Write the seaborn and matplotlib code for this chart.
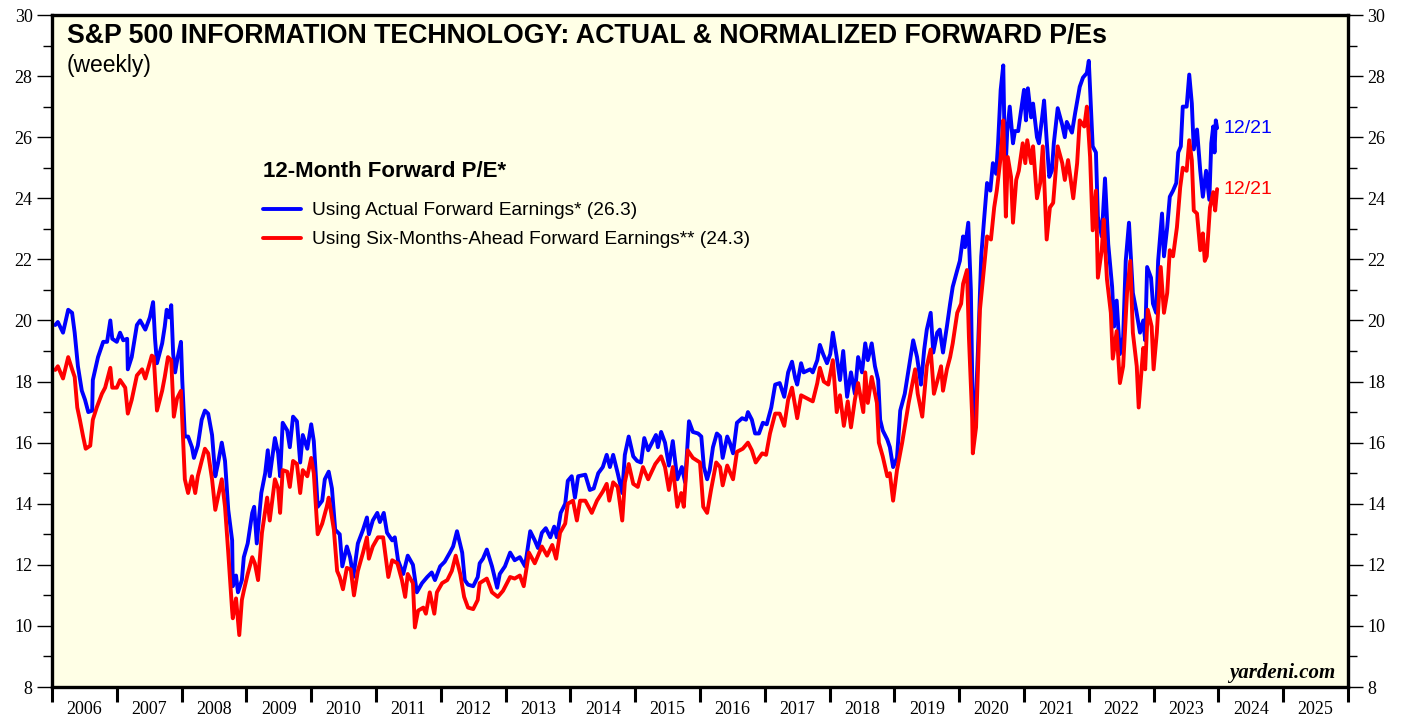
import matplotlib
matplotlib.use("Agg")
import matplotlib.pyplot as plt
from matplotlib.ticker import MultipleLocator, FixedLocator, NullFormatter
import seaborn as sns
import numpy as np
import pandas as pd

# WEEKLY FORWARD P/E (decimal years)
actual_t = [
    2006.05, 2006.09, 2006.17, 2006.25, 2006.31, 2006.35, 2006.40, 2006.46, 2006.51, 2006.56, 2006.62, 2006.63, 2006.71, 2006.79, 2006.85, 2006.90, 2006.93,
    2007.00, 2007.05, 2007.10, 2007.16, 2007.17, 2007.23, 2007.31, 2007.36, 2007.44, 2007.51, 2007.56, 2007.59, 2007.62, 2007.70, 2007.74, 2007.77, 2007.81, 2007.84, 2007.87, 2007.90, 2007.94, 2007.99,
    2008.01, 2008.05, 2008.10, 2008.16, 2008.19, 2008.25, 2008.31, 2008.36, 2008.41, 2008.47, 2008.52, 2008.56, 2008.62, 2008.67, 2008.72, 2008.78, 2008.79, 2008.84, 2008.87, 2008.93, 2008.96,
    2009.02, 2009.09, 2009.12, 2009.16, 2009.23, 2009.29, 2009.33, 2009.36, 2009.44, 2009.49, 2009.52, 2009.56, 2009.63, 2009.67, 2009.72, 2009.78, 2009.83, 2009.87, 2009.94,
    2010.00, 2010.04, 2010.10, 2010.17, 2010.21, 2010.27, 2010.32, 2010.37, 2010.44, 2010.48, 2010.55, 2010.60, 2010.65, 2010.72, 2010.80, 2010.86, 2010.89, 2010.95,
    2011.02, 2011.06, 2011.12, 2011.17, 2011.25, 2011.29, 2011.34, 2011.42, 2011.49, 2011.57, 2011.63, 2011.71, 2011.79, 2011.86, 2011.91, 2011.99,
    2012.06, 2012.14, 2012.19, 2012.25, 2012.33, 2012.37, 2012.42, 2012.50, 2012.57, 2012.60, 2012.65, 2012.71, 2012.79, 2012.87, 2012.91, 2012.99,
    2013.07, 2013.14, 2013.22, 2013.30, 2013.38, 2013.45, 2013.50, 2013.56, 2013.62, 2013.69, 2013.75, 2013.79, 2013.85, 2013.92, 2013.96,
    2014.02, 2014.07, 2014.12, 2014.23, 2014.30, 2014.36, 2014.43, 2014.50, 2014.56, 2014.61, 2014.66, 2014.73, 2014.80, 2014.84, 2014.90, 2014.97,
    2015.03, 2015.09, 2015.14, 2015.20, 2015.26, 2015.32, 2015.35, 2015.40, 2015.46, 2015.52, 2015.58, 2015.65, 2015.72, 2015.77, 2015.83, 2015.89, 2015.97,
    2016.02, 2016.06, 2016.11, 2016.15, 2016.20, 2016.26, 2016.31, 2016.35, 2016.42, 2016.46, 2016.51, 2016.57, 2016.65, 2016.71, 2016.74, 2016.80, 2016.85, 2016.91, 2016.97,
    2017.03, 2017.10, 2017.16, 2017.23, 2017.30, 2017.36, 2017.42, 2017.47, 2017.50, 2017.56, 2017.60, 2017.70, 2017.74, 2017.81, 2017.85, 2017.90, 2017.96,
    2018.01, 2018.05, 2018.11, 2018.16, 2018.21, 2018.27, 2018.33, 2018.39, 2018.44, 2018.50, 2018.55, 2018.59, 2018.65, 2018.70, 2018.75, 2018.78, 2018.82, 2018.89, 2018.93, 2018.98,
    2019.04, 2019.09, 2019.16, 2019.22, 2019.29, 2019.35, 2019.41, 2019.46, 2019.50, 2019.56, 2019.60, 2019.66, 2019.70, 2019.75, 2019.81, 2019.86, 2019.90, 2019.97,
    2020.01, 2020.06, 2020.09, 2020.14, 2020.18, 2020.21, 2020.24, 2020.29, 2020.34, 2020.38, 2020.43, 2020.48, 2020.52, 2020.57, 2020.60, 2020.64, 2020.68, 2020.71, 2020.74, 2020.78, 2020.83, 2020.86, 2020.91, 2020.97,
    2021.00, 2021.03, 2021.06, 2021.11, 2021.14, 2021.20, 2021.23, 2021.28, 2021.31, 2021.35, 2021.39, 2021.43, 2021.46, 2021.52, 2021.59, 2021.63, 2021.66, 2021.74, 2021.79, 2021.86, 2021.91, 2021.97,
    2022.00, 2022.03, 2022.06, 2022.11, 2022.14, 2022.20, 2022.25, 2022.30, 2022.36, 2022.39, 2022.43, 2022.48, 2022.53, 2022.57, 2022.62, 2022.68, 2022.73, 2022.79, 2022.84, 2022.87, 2022.90, 2022.96, 2022.99,
    2023.04, 2023.07, 2023.13, 2023.16, 2023.21, 2023.25, 2023.30, 2023.35, 2023.38, 2023.42, 2023.45, 2023.51, 2023.55, 2023.59, 2023.62, 2023.67, 2023.72, 2023.76, 2023.81, 2023.86, 2023.89, 2023.92, 2023.94, 2023.96, 2023.98,
]
actual_pe = [
    19.85, 19.95, 19.6, 20.35, 20.25, 19.6, 18.5, 17.7, 17.4, 17.0, 17.05, 18.05, 18.8, 19.3, 19.3, 20.0, 19.4,
    19.3, 19.6, 19.35, 19.4, 18.4, 18.8, 19.85, 20.0, 19.7, 20.1, 20.6, 19.4, 18.6, 19.25, 19.8, 20.35, 20.1, 20.5, 18.9, 18.3, 18.8, 19.3,
    18.05, 16.2, 16.2, 15.85, 15.5, 15.9, 16.75, 17.05, 16.95, 16.25, 14.9, 15.3, 16.0, 15.4, 13.8, 12.8, 11.3, 11.65, 11.1, 11.5, 12.25,
    12.7, 13.7, 13.9, 12.7, 14.35, 15.0, 15.75, 14.9, 16.15, 15.65, 14.9, 16.65, 16.4, 15.85, 16.85, 16.7, 15.35, 16.25, 15.8,
    16.6, 16.05, 13.9, 14.1, 14.8, 15.05, 14.5, 13.15, 13.0, 11.95, 12.6, 12.25, 11.6, 12.7, 13.15, 13.55, 13.0, 13.45,
    13.7, 13.4, 13.7, 13.05, 12.8, 12.9, 12.15, 11.7, 12.3, 12.0, 11.1, 11.4, 11.6, 11.75, 11.5, 11.95,
    12.1, 12.4, 12.6, 13.1, 12.4, 11.5, 11.35, 11.3, 11.6, 12.05, 12.2, 12.5, 11.95, 11.25, 11.7, 11.95,
    12.4, 12.15, 12.25, 11.95, 13.1, 12.8, 12.55, 13.05, 13.2, 12.9, 13.25, 12.9, 13.7, 14.0, 14.75,
    14.9, 14.2, 14.9, 14.95, 14.45, 14.5, 15.0, 15.2, 15.6, 15.2, 15.6, 15.0, 14.35, 15.6, 16.2, 15.55,
    15.4, 15.35, 16.15, 15.75, 16.0, 16.25, 15.85, 16.35, 16.0, 15.25, 16.05, 14.8, 15.2, 14.7, 16.7, 16.35, 16.3,
    16.2, 15.2, 14.8, 15.1, 15.85, 16.3, 16.2, 15.5, 16.2, 16.0, 15.65, 16.65, 16.8, 16.75, 17.0, 16.75, 16.3, 16.3, 16.65,
    16.6, 17.15, 17.9, 17.95, 17.5, 18.3, 18.65, 18.1, 17.9, 18.6, 18.3, 18.4, 18.3, 18.7, 19.2, 18.9, 18.6,
    18.9, 19.6, 18.8, 18.05, 19.0, 17.5, 18.3, 17.6, 18.8, 18.3, 19.25, 18.7, 19.25, 18.5, 18.05, 16.75, 16.4, 16.1, 15.85, 15.2,
    15.5, 17.05, 17.6, 18.4, 19.35, 18.8, 17.9, 19.05, 19.7, 20.25, 18.95, 19.6, 19.7, 18.95, 19.8, 20.55, 21.1, 21.65,
    21.95, 22.75, 22.4, 23.2, 21.0, 16.85, 16.4, 19.05, 22.1, 23.2, 24.5, 24.25, 25.15, 24.8, 25.8, 27.55, 28.35, 24.7, 26.15, 27.0, 25.8, 26.2, 26.2, 27.1,
    27.55, 26.55, 27.6, 26.65, 27.1, 26.0, 25.8, 26.65, 27.2, 25.9, 24.7, 24.9, 25.8, 26.95, 26.4, 26.0, 26.5, 26.15, 26.8, 27.65, 27.95, 28.1,
    28.5, 27.1, 25.7, 25.5, 23.4, 22.75, 24.65, 22.5, 21.1, 19.8, 20.65, 18.9, 19.45, 21.95, 23.2, 20.9, 20.35, 19.6, 20.0, 19.35, 21.75, 21.4, 20.55,
    20.25, 21.95, 23.5, 22.1, 23.05, 24.05, 24.25, 24.5, 25.5, 25.7, 27.0, 27.0, 28.05, 27.1, 25.6, 26.25, 24.9, 24.05, 24.9, 23.95, 25.8, 26.35, 25.5, 26.55, 26.3,
]

norm_t = [
    2006.05, 2006.09, 2006.17, 2006.25, 2006.31, 2006.35, 2006.39, 2006.43, 2006.48, 2006.52, 2006.59, 2006.63, 2006.69, 2006.77, 2006.82, 2006.90, 2006.93,
    2007.00, 2007.05, 2007.13, 2007.17, 2007.23, 2007.31, 2007.39, 2007.44, 2007.54, 2007.57, 2007.62, 2007.70, 2007.74, 2007.79, 2007.84, 2007.88, 2007.93, 2007.99,
    2008.01, 2008.05, 2008.10, 2008.16, 2008.21, 2008.25, 2008.31, 2008.36, 2008.41, 2008.47, 2008.52, 2008.56, 2008.62, 2008.67, 2008.72, 2008.78, 2008.79, 2008.84, 2008.89, 2008.93, 2008.96,
    2009.02, 2009.09, 2009.13, 2009.18, 2009.24, 2009.32, 2009.36, 2009.44, 2009.49, 2009.52, 2009.56, 2009.63, 2009.67, 2009.72, 2009.78, 2009.83, 2009.87, 2009.94,
    2010.00, 2010.04, 2010.10, 2010.17, 2010.24, 2010.27, 2010.35, 2010.40, 2010.44, 2010.49, 2010.55, 2010.61, 2010.66, 2010.72, 2010.80, 2010.86, 2010.89, 2010.95,
    2011.03, 2011.11, 2011.19, 2011.25, 2011.33, 2011.40, 2011.45, 2011.49, 2011.57, 2011.60, 2011.65, 2011.73, 2011.77, 2011.83, 2011.90, 2011.94,
    2012.02, 2012.10, 2012.17, 2012.23, 2012.30, 2012.36, 2012.42, 2012.50, 2012.57, 2012.60, 2012.71, 2012.79, 2012.88, 2012.96,
    2013.07, 2013.14, 2013.22, 2013.28, 2013.36, 2013.45, 2013.56, 2013.64, 2013.72, 2013.78, 2013.84, 2013.92, 2013.96,
    2014.04, 2014.10, 2014.15, 2014.23, 2014.33, 2014.41, 2014.50, 2014.56, 2014.60, 2014.66, 2014.73, 2014.80, 2014.84, 2014.90, 2014.97,
    2015.04, 2015.12, 2015.20, 2015.31, 2015.40, 2015.46, 2015.52, 2015.58, 2015.65, 2015.71, 2015.75, 2015.81, 2015.89,
    2016.00, 2016.05, 2016.11, 2016.17, 2016.25, 2016.31, 2016.35, 2016.42, 2016.51, 2016.57, 2016.66, 2016.74, 2016.80, 2016.86, 2016.96,
    2017.02, 2017.08, 2017.16, 2017.23, 2017.30, 2017.36, 2017.42, 2017.50, 2017.56, 2017.65, 2017.74, 2017.81, 2017.85, 2017.91, 2017.98,
    2018.05, 2018.11, 2018.16, 2018.22, 2018.28, 2018.33, 2018.39, 2018.44, 2018.52, 2018.55, 2018.59, 2018.65, 2018.73, 2018.76, 2018.82, 2018.89, 2018.93, 2018.98,
    2019.04, 2019.12, 2019.19, 2019.22, 2019.32, 2019.36, 2019.43, 2019.50, 2019.56, 2019.61, 2019.66, 2019.72, 2019.75, 2019.81, 2019.86, 2019.90, 2019.97,
    2020.03, 2020.06, 2020.12, 2020.15, 2020.20, 2020.21, 2020.26, 2020.32, 2020.38, 2020.43, 2020.49, 2020.54, 2020.58, 2020.64, 2020.68, 2020.72, 2020.75, 2020.80, 2020.83, 2020.88, 2020.92, 2020.98,
    2021.02, 2021.05, 2021.11, 2021.14, 2021.20, 2021.25, 2021.29, 2021.35, 2021.40, 2021.45, 2021.52, 2021.59, 2021.63, 2021.68, 2021.76, 2021.82, 2021.86, 2021.93, 2021.97,
    2022.02, 2022.06, 2022.11, 2022.14, 2022.20, 2022.23, 2022.28, 2022.34, 2022.37, 2022.43, 2022.48, 2022.53, 2022.59, 2022.64, 2022.68, 2022.74, 2022.77, 2022.84, 2022.87, 2022.91, 2022.97,
    2023.00, 2023.05, 2023.11, 2023.16, 2023.21, 2023.25, 2023.30, 2023.36, 2023.41, 2023.45, 2023.51, 2023.55, 2023.59, 2023.62, 2023.67, 2023.72, 2023.76, 2023.79, 2023.82, 2023.87, 2023.92, 2023.95, 2023.98,
]
norm_pe = [
    18.38, 18.5, 18.1, 18.8, 18.4, 18.15, 17.15, 16.75, 16.2, 15.8, 15.9, 16.75, 17.15, 17.6, 17.8, 18.45, 17.8,
    17.8, 18.05, 17.8, 16.95, 17.4, 18.2, 18.4, 18.1, 18.85, 18.8, 17.05, 17.7, 18.15, 18.8, 18.7, 16.85, 17.45, 17.7,
    16.75, 14.8, 14.35, 14.9, 14.35, 14.9, 15.4, 15.8, 15.65, 14.8, 13.8, 14.2, 14.8, 13.9, 12.4, 10.5, 10.25, 10.9, 9.7, 10.85, 11.15,
    11.7, 12.25, 12.05, 11.5, 13.05, 14.2, 13.45, 14.8, 14.5, 13.7, 15.1, 15.05, 14.55, 15.4, 15.3, 14.35, 15.1, 14.9,
    15.5, 15.0, 13.0, 13.35, 13.9, 14.2, 13.15, 11.8, 11.6, 11.2, 11.9, 11.85, 11.0, 11.8, 12.4, 12.9, 12.2, 12.6,
    12.9, 12.9, 11.6, 12.15, 12.05, 11.5, 10.95, 11.7, 11.4, 9.95, 10.5, 10.6, 10.4, 11.1, 10.4, 11.1,
    11.4, 11.5, 11.8, 12.3, 11.7, 10.95, 10.6, 10.55, 10.85, 11.4, 11.55, 11.1, 10.95, 11.15,
    11.6, 11.55, 11.65, 11.3, 12.4, 12.05, 12.6, 12.3, 12.65, 12.2, 13.05, 13.35, 14.0,
    14.1, 13.45, 14.1, 14.1, 13.7, 14.1, 14.4, 14.65, 14.1, 14.7, 14.55, 13.45, 14.7, 15.3, 14.65,
    14.55, 15.2, 14.8, 15.3, 15.55, 15.2, 14.45, 15.2, 13.9, 14.35, 13.9, 15.75, 15.5,
    15.35, 13.9, 13.7, 14.45, 15.35, 15.2, 14.6, 15.25, 14.8, 15.7, 15.8, 16.0, 15.75, 15.35, 15.65,
    15.6, 16.3, 16.95, 16.95, 16.55, 17.4, 17.8, 16.8, 17.55, 17.45, 17.35, 17.95, 18.45, 18.0, 17.9,
    18.7, 17.0, 17.55, 16.55, 17.35, 16.5, 17.4, 17.95, 17.0, 18.3, 17.3, 18.15, 17.3, 16.0, 15.55, 14.9, 15.0, 14.1,
    15.1, 16.0, 16.9, 17.3, 18.4, 17.6, 16.85, 18.5, 19.05, 17.6, 18.0, 18.5, 17.7, 18.4, 18.8, 19.25, 20.25,
    20.55, 21.2, 21.65, 19.45, 16.85, 15.65, 16.5, 20.35, 21.65, 22.75, 22.65, 23.7, 24.25, 25.35, 26.55, 23.4, 25.35, 24.7, 23.2, 24.6, 24.9, 25.8,
    25.15, 25.9, 25.15, 25.7, 24.0, 24.5, 25.7, 22.65, 23.7, 23.85, 25.7, 25.15, 24.6, 25.25, 24.0, 25.15, 26.55, 26.35, 27.0,
    25.35, 22.95, 24.25, 21.4, 22.3, 23.3, 21.35, 20.25, 18.75, 19.65, 17.95, 18.5, 20.9, 21.95, 19.6, 18.5, 17.15, 19.1, 18.4, 20.35, 19.8,
    18.4, 19.6, 21.75, 20.25, 20.9, 22.3, 22.1, 23.05, 24.35, 25.0, 24.9, 25.9, 25.25, 23.6, 23.5, 22.3, 22.85, 21.95, 22.1, 23.7, 24.2, 23.6, 24.3,
]

actual_label = "Using Actual Forward Earnings* (26.3)"
norm_label = "Using Six-Months-Ahead Forward Earnings** (24.3)"
end_label = "12/21"
years = list(range(2006, 2026))

actual_df = pd.DataFrame({"t": actual_t, "pe": actual_pe})
norm_df = pd.DataFrame({"t": norm_t, "pe": norm_pe})

# SET UP STYLE
sns.set_style("ticks", {"text.color": "black", "xtick.color": "black", "ytick.color": "black",
                        "axes.labelcolor": "black", "axes.edgecolor": "black"})
plt.rcParams["font.family"] = ["Liberation Serif", "DejaVu Serif"]

fig = plt.figure(figsize=(14.07, 7.17), dpi=100)
ax = fig.add_axes([52 / 1407, 1 - 687 / 717, 1296 / 1407, 672 / 717])
ax.set_facecolor("#FFFFE6")

sns.lineplot(data=actual_df, x="t", y="pe", color="#0000FF", lw=2.8, label=actual_label, ax=ax, sort=False)
sns.lineplot(data=norm_df, x="t", y="pe", color="#FF0000", lw=2.8, label=norm_label, ax=ax, sort=False)

ax.set_xlim(2006, 2026)
ax.set_ylim(8, 30)
ax.set_xlabel("")
ax.set_ylabel("")

# Y TICKS BOTH SIDES
ax.yaxis.set_major_locator(MultipleLocator(2))
ax.yaxis.set_minor_locator(MultipleLocator(1))
ax.tick_params(axis="y", which="both", left=True, right=True, labelleft=True, labelright=True,
               direction="out", width=1, color="black", labelcolor="black", labelsize=13, pad=3)
ax.tick_params(axis="y", which="major", length=11)
ax.tick_params(axis="y", which="minor", length=6.5)

# X TICKS: YEAR BOUNDARIES + LABELS IN BETWEEN
ax.xaxis.set_major_locator(FixedLocator(years + [2026]))
ax.xaxis.set_major_formatter(NullFormatter())
ax.xaxis.set_minor_locator(FixedLocator([y + 0.5 for y in years]))
ax.set_xticklabels([str(y) for y in years], minor=True)
ax.tick_params(axis="x", which="major", direction="out", length=11, width=2.2, color="black")
ax.tick_params(axis="x", which="minor", length=0, labelsize=13, pad=10, labelcolor="black")

for s in ax.spines.values():
    s.set_linewidth(2.4)
    s.set_color("black")

# TEXT
sans = ["Liberation Sans", "DejaVu Sans"]
ax.text(0.0116, 0.988, "S&P 500 INFORMATION TECHNOLOGY: ACTUAL & NORMALIZED FORWARD P/Es",
        transform=ax.transAxes, ha="left", va="top", fontsize=19.3, fontweight="bold", family=sans,
        color="black")
ax.text(0.0116, 0.942, "(weekly)", transform=ax.transAxes, ha="left", va="top", fontsize=16.5,
        family=sans, color="black")

ax.text(actual_t[-1] + 0.1, actual_pe[-1], end_label, color="#0000FF", ha="left", va="center",
        fontsize=14, family=sans)
ax.text(norm_t[-1] + 0.1, norm_pe[-1], end_label, color="#FF0000", ha="left", va="center",
        fontsize=14, family=sans)

ax.text(0.9905, 0.006, "yardeni.com", transform=ax.transAxes, ha="right", va="bottom",
        fontsize=15, fontweight="bold", style="italic", color="black")

leg = ax.legend(loc="upper left", bbox_to_anchor=(0.163, 0.782), frameon=False,
                title="12-Month Forward P/E*", alignment="left", handlelength=1.95,
                handletextpad=0.6, labelspacing=0.6, borderpad=0, borderaxespad=0,
                prop={"family": sans, "size": 13.8},
                title_fontproperties={"family": sans, "size": 16, "weight": "bold"})
leg.get_title().set_color("black")
for txt in leg.get_texts():
    txt.set_color("black")
leg._legend_box.sep = 14
for line in leg.get_lines():
    line.set_linewidth(2.8)

fig.savefig("out.png", dpi=100, facecolor="white")
